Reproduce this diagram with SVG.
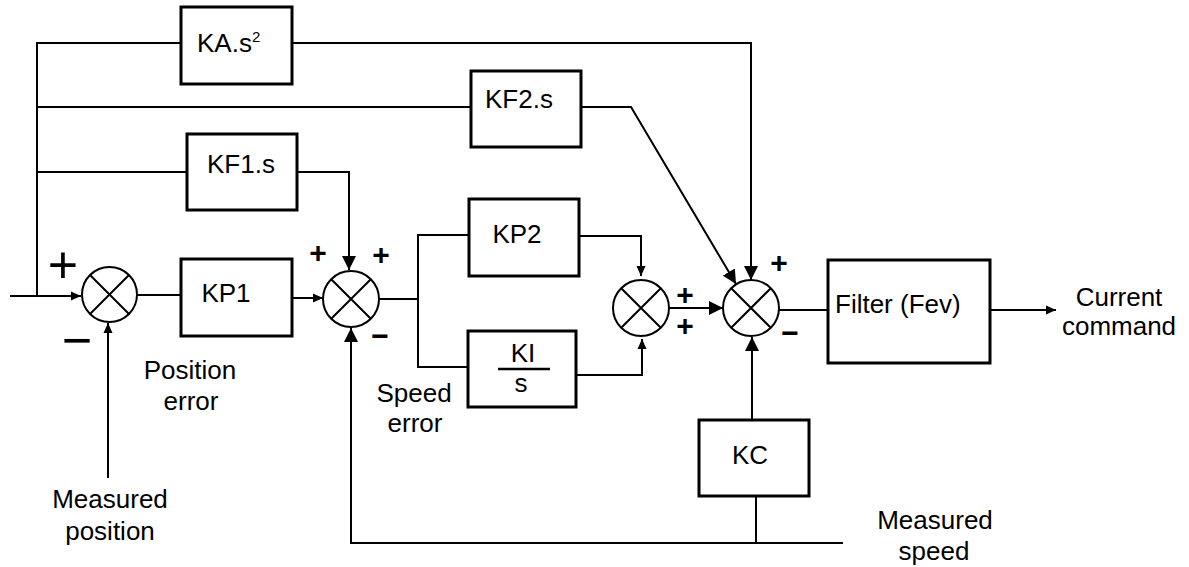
<svg xmlns="http://www.w3.org/2000/svg" width="1189" height="567" viewBox="0 0 1189 567">
<style>
.box{fill:#fff;stroke:#000;stroke-width:3}
.sum{fill:#fff;stroke:#000;stroke-width:2}
.ln{fill:none;stroke:#000;stroke-width:2}
.t{font-family:"Liberation Sans",Arial,Helvetica,sans-serif;font-size:26px;fill:#000}
.m{text-anchor:middle}
.big{font-family:"Liberation Sans",Arial,sans-serif;font-size:52px;text-anchor:middle;fill:#000}
.sg{font-family:"Liberation Sans",Arial,sans-serif;font-size:30px;font-weight:bold;text-anchor:middle;fill:#000}
</style>
<defs>
<marker id="aL" markerUnits="userSpaceOnUse" markerWidth="14" markerHeight="14" refX="14" refY="7" orient="auto"><path d="M0,0 L14,7 L0,14 z" fill="#000"/></marker>
<marker id="aS" markerUnits="userSpaceOnUse" markerWidth="10" markerHeight="10" refX="10" refY="5" orient="auto"><path d="M0,0.5 L10,5 L0,9.5 z" fill="#000"/></marker>
</defs>
<rect width="1189" height="567" fill="#fff"/>
<g id="connectors">
<path class="ln" d="M10,296 H81" marker-end="url(#aS)"/>
<path class="ln" d="M37,296 V43 H181"/>
<path class="ln" d="M292,43 H751 V280" marker-end="url(#aL)"/>
<path class="ln" d="M37,107 H471"/>
<path class="ln" d="M581,107 H631 L736,284" marker-end="url(#aL)"/>
<path class="ln" d="M37,172 H187"/>
<path class="ln" d="M297,172 H349 V270" marker-end="url(#aL)"/>
<path class="ln" d="M108,478 V323" marker-end="url(#aS)"/>
<path class="ln" d="M137,295 H181"/>
<path class="ln" d="M292,298 H323" marker-end="url(#aS)"/>
<path class="ln" d="M843,543 H351 V328" marker-end="url(#aL)"/>
<path class="ln" d="M379,299 H418"/>
<path class="ln" d="M469,235 H418 V367 H468"/>
<path class="ln" d="M579,236 H641 V276" marker-end="url(#aS)"/>
<path class="ln" d="M576,375 H642 V339" marker-end="url(#aS)"/>
<path class="ln" d="M669,308 H723" marker-end="url(#aL)"/>
<path class="ln" d="M752,420 V337" marker-end="url(#aL)"/>
<path class="ln" d="M756,496 V543"/>
<path class="ln" d="M779,310 H828"/>
<path class="ln" d="M990,310 H1056" marker-end="url(#aS)"/>
</g>
<g id="sum1">
<circle class="sum" cx="109.5" cy="294.5" r="27.5"/>
<path class="ln" d="M90,275 L129,314 M129,275 L90,314"/>
</g>
<g id="sum2">
<circle class="sum" cx="351" cy="299" r="28"/>
<path class="ln" d="M331.2,279.2 L370.8,318.8 M370.8,279.2 L331.2,318.8"/>
</g>
<g id="sum3">
<circle class="sum" cx="641" cy="308" r="28"/>
<path class="ln" d="M621.2,288.2 L660.8,327.8 M660.8,288.2 L621.2,327.8"/>
</g>
<g id="sum4">
<circle class="sum" cx="751" cy="308" r="28"/>
<path class="ln" d="M731.2,288.2 L770.8,327.8 M770.8,288.2 L731.2,327.8"/>
</g>
<g id="KA">
<rect class="box" x="181" y="7" width="111" height="77"/>
<text class="t" x="197" y="52">KA.s<tspan font-size="15" dy="-10">2</tspan></text>
</g>
<g id="KF2">
<rect class="box" x="471" y="71" width="110" height="76"/>
<text class="t" x="485" y="108">KF2.s</text>
</g>
<g id="KF1">
<rect class="box" x="187" y="134" width="110" height="76"/>
<text class="t" x="207" y="173">KF1.s</text>
</g>
<g id="KP1">
<rect class="box" x="181" y="259" width="111" height="77"/>
<text class="t m" x="226" y="302">KP1</text>
</g>
<g id="KP2">
<rect class="box" x="469" y="199" width="110" height="77"/>
<text class="t m" x="517" y="243">KP2</text>
</g>
<g id="KI">
<rect class="box" x="468" y="331" width="108" height="76"/>
<text class="t m" x="523" y="362">KI</text>
<line x1="498" y1="369" x2="550" y2="369" stroke="#000" stroke-width="2.5"/>
<text class="t m" x="521" y="392">s</text>
</g>
<g id="KC">
<rect class="box" x="699" y="420" width="110" height="76"/>
<text class="t m" x="750" y="464">KC</text>
</g>
<g id="filter">
<rect class="box" x="828" y="260" width="162" height="103"/>
<text class="t" x="835" y="313">Filter (Fev)</text>
</g>
<g id="signs">
<text class="big" x="63" y="283">+</text>
<text class="big" x="77" y="358">−</text>
<text class="sg" x="318" y="263">+</text>
<text class="sg" x="381" y="265">+</text>
<text class="sg" x="380" y="346">−</text>
<text class="sg" x="685" y="305">+</text>
<text class="sg" x="685" y="336">+</text>
<text class="sg" x="779" y="273">+</text>
<text class="sg" x="790" y="343">−</text>
</g>
<g id="labels">
<text class="t m" x="1119" y="306">Current</text>
<text class="t m" x="1119" y="335">command</text>
<text class="t m" x="190" y="379">Position</text>
<text class="t m" x="191" y="410">error</text>
<text class="t m" x="414" y="402">Speed</text>
<text class="t m" x="415" y="432">error</text>
<text class="t m" x="110" y="508">Measured</text>
<text class="t m" x="110" y="540">position</text>
<text class="t m" x="935" y="529">Measured</text>
<text class="t m" x="934" y="560">speed</text>
</g>
</svg>
